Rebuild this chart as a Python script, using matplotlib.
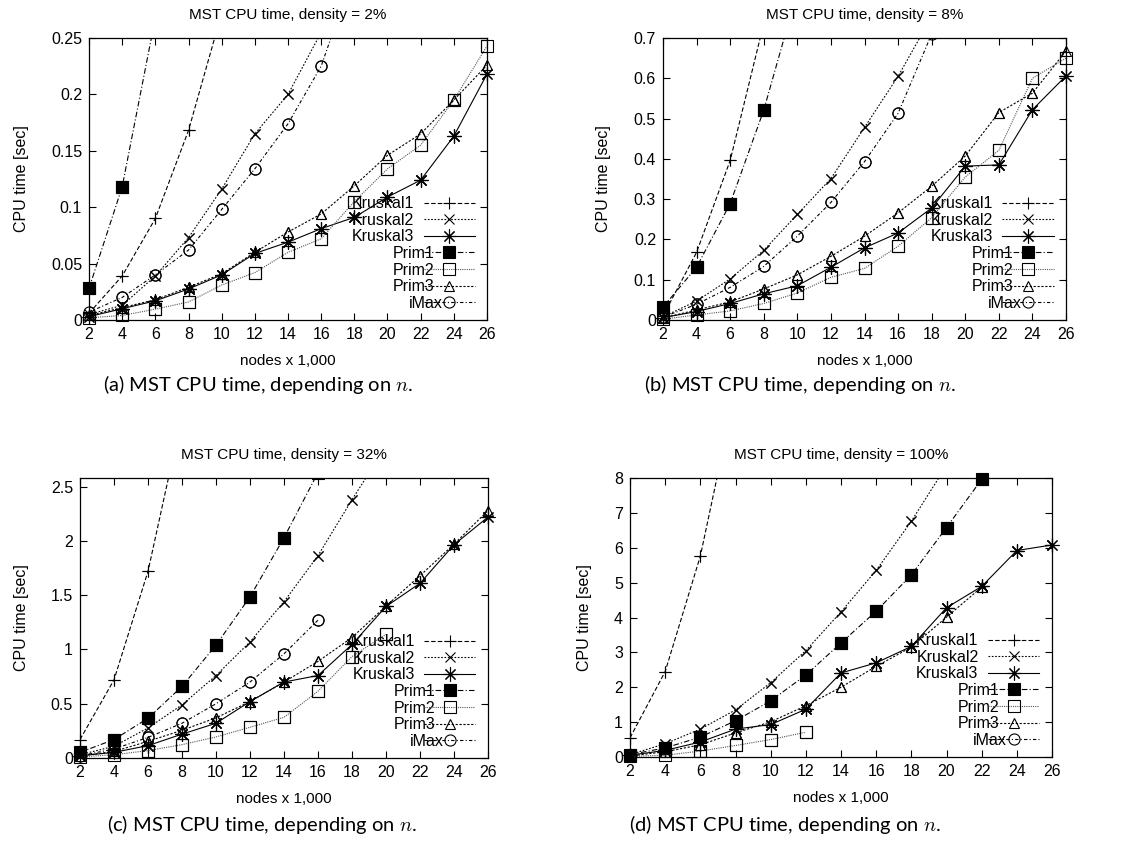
import numpy as np
import matplotlib
matplotlib.use("Agg")
import matplotlib.pyplot as plt
from matplotlib.ticker import FuncFormatter

plt.rcParams['font.family'] = ['Liberation Sans', 'DejaVu Sans']
plt.rcParams['mathtext.fontset'] = 'cm'

# nodes x 1,000
NODES = [2, 4, 6, 8, 10, 12, 14, 16, 18, 20, 22, 24, 26]
LABELS = ['Kruskal1', 'Kruskal2', 'Kruskal3', 'Prim1', 'Prim2', 'Prim3', 'iMax']
DENSITIES = ['2%', '8%', '32%', '100%']
CAPTIONS = ['(a)', '(b)', '(c)', '(d)']
YMAX = [0.25, 0.7, 2.58, 8]
YSTEP = [0.05, 0.1, 0.5, 1]

# density = 2%
A_KRUSKAL1 = [0.006, 0.039, 0.090, 0.168, 0.272]
A_KRUSKAL2 = [0.005, 0.013, 0.039, 0.073, 0.116, 0.165, 0.200, 0.255]
A_KRUSKAL3 = [0.003, 0.010, 0.017, 0.0275, 0.040, 0.059, 0.069, 0.081, 0.091, 0.109, 0.124, 0.163, 0.218]
A_PRIM1 = [0.028, 0.118, 0.268]
A_PRIM2 = [0.002, 0.004, 0.0096, 0.016, 0.031, 0.042, 0.060, 0.072, 0.105, 0.134, 0.155, 0.195, 0.243]
A_PRIM3 = [0.004, 0.011, 0.018, 0.029, 0.041, 0.060, 0.078, 0.094, 0.119, 0.146, 0.165, 0.195, 0.226]
A_IMAX = [0.007, 0.020, 0.040, 0.062, 0.098, 0.134, 0.174, 0.225, 0.31]

# density = 8%
B_KRUSKAL1 = [0.010, 0.168, 0.396, 0.736]
B_KRUSKAL2 = [0.008, 0.047, 0.102, 0.173, 0.262, 0.351, 0.478, 0.605, 0.753]
B_KRUSKAL3 = [0.006, 0.021, 0.041, 0.065, 0.085, 0.131, 0.179, 0.216, 0.278, 0.382, 0.385, 0.522, 0.606]
B_PRIM1 = [0.032, 0.131, 0.289, 0.521, 0.815]
B_PRIM2 = [0.002, 0.0125, 0.0225, 0.041, 0.067, 0.106, 0.128, 0.183, 0.254, 0.355, 0.421, 0.600, 0.650]
B_PRIM3 = [0.005, 0.025, 0.045, 0.077, 0.112, 0.158, 0.208, 0.266, 0.332, 0.407, 0.515, 0.563, 0.668]
B_IMAX = [0.007, 0.039, 0.081, 0.133, 0.208, 0.292, 0.393, 0.513, 0.71]

# density = 32%
C_KRUSKAL1 = [0.17, 0.72, 1.72, 3.15]
C_KRUSKAL2 = [0.03, 0.108, 0.277, 0.49, 0.76, 1.07, 1.44, 1.865, 2.38, 2.87]
C_KRUSKAL3 = [0.02, 0.052, 0.114, 0.22, 0.32, 0.52, 0.70, 0.76, 1.046, 1.396, 1.61, 1.965, 2.22]
C_PRIM1 = [0.052, 0.17, 0.366, 0.66, 1.04, 1.485, 2.03, 2.63]
C_PRIM2 = [0.01, 0.03, 0.068, 0.123, 0.194, 0.283, 0.375, 0.615, 0.935, 1.14]
C_PRIM3 = [0.02, 0.06, 0.154, 0.255, 0.37, 0.52, 0.70, 0.89, 1.11, 1.40, 1.68, 1.97, 2.28]
C_IMAX = [0.02, 0.083, 0.19, 0.32, 0.50, 0.70, 0.96, 1.27]

# density = 100%
D_KRUSKAL1 = [0.55, 2.45, 5.76, 10.5]
D_KRUSKAL2 = [0.07, 0.38, 0.80, 1.35, 2.13, 3.05, 4.16, 5.35, 6.76, 8.35]
D_KRUSKAL3 = [0.05, 0.19, 0.43, 0.80, 0.93, 1.37, 2.41, 2.70, 3.17, 4.28, 4.89, 5.92, 6.08]
D_PRIM1 = [0.07, 0.26, 0.57, 1.04, 1.61, 2.35, 3.27, 4.18, 5.22, 6.58, 7.96]
D_PRIM2 = [0.02, 0.05, 0.17, 0.33, 0.50, 0.71]
D_PRIM3 = [0.03, 0.15, 0.35, 0.69, 1.01, 1.47, 2.0, 2.60, 3.15, 4.01, 4.87]
D_IMAX = []

PANELS = [
    [A_KRUSKAL1, A_KRUSKAL2, A_KRUSKAL3, A_PRIM1, A_PRIM2, A_PRIM3, A_IMAX],
    [B_KRUSKAL1, B_KRUSKAL2, B_KRUSKAL3, B_PRIM1, B_PRIM2, B_PRIM3, B_IMAX],
    [C_KRUSKAL1, C_KRUSKAL2, C_KRUSKAL3, C_PRIM1, C_PRIM2, C_PRIM3, C_IMAX],
    [D_KRUSKAL1, D_KRUSKAL2, D_KRUSKAL3, D_PRIM1, D_PRIM2, D_PRIM3, D_IMAX],
]

# gnuplot-like monochrome styles
STYLES = [
    dict(ls=(0, (4, 2)), marker='+', mfc='none', ms=9),
    dict(ls=(0, (1.5, 1.5)), marker='x', mfc='none', ms=7.5),
    dict(ls='-', marker=(8, 2, 0), mfc='none', ms=10),
    dict(ls=(0, (5, 2, 1, 2)), marker='s', mfc='black', ms=8),
    dict(ls=(0, (1, 1)), marker='s', mfc='none', ms=8),
    dict(ls=(0, (2, 1.5)), marker='^', mfc='none', ms=7.5),
    dict(ls=(0, (3, 2, 1, 2)), marker='o', mfc='none', ms=8),
]

W, H = 1127, 852
# axes boxes in pixels: left, right, top, bottom
BOXES = [(89, 487, 38, 320), (663, 1066, 38, 320), (80, 488, 478, 758), (630, 1052, 478, 757)]
CAP_X = [258, 800, 262, 785]
CAP_Y = [385, 385, 825, 825]

fig = plt.figure(figsize=(W / 100, H / 100), dpi=100)

for i, series in enumerate(PANELS):
    l, r, t, b = BOXES[i]
    ax = fig.add_axes([l / W, 1 - b / H, (r - l) / W, (b - t) / H])
    handles = []
    for lab, ys, st in zip(LABELS, series, STYLES):
        xs = NODES[:len(ys)]
        col = '#555555' if lab == 'Prim2' else 'black'
        h, = ax.plot(xs, ys, color=col, lw=0.8, ls=st['ls'], marker=st['marker'],
                     ms=st['ms'], mfc=st['mfc'], mec='black', mew=0.8, label=lab)
        # points on the border are not clipped in gnuplot
        inside = [(x, y) for x, y in zip(xs, ys) if y <= YMAX[i]]
        if inside:
            px, py = zip(*inside)
            ax.plot(px, py, ls='none', marker=st['marker'], ms=st['ms'], mfc=st['mfc'],
                    mec='black', mew=0.8, clip_on=False)
        handles.append(h)
    ax.set_xlim(2, 26)
    ax.set_ylim(0, YMAX[i])
    ax.set_xticks(NODES)
    ax.set_yticks(np.arange(0, YMAX[i] + 1e-9, YSTEP[i]))
    ax.yaxis.set_major_formatter(FuncFormatter(lambda v, p: '%g' % round(v, 4)))
    ax.tick_params(direction='in', top=True, right=True, length=5, width=0.8, labelsize=11.5, pad=5)
    for s in ax.spines.values():
        s.set_linewidth(0.9)
    ax.set_title('MST CPU time, density = ' + DENSITIES[i], fontsize=11, pad=14)
    ax.set_xlabel('nodes x 1,000', fontsize=11, labelpad=9)
    ax.set_ylabel('CPU time [sec]', fontsize=11.5, labelpad=16)
    leg = ax.legend(handles=handles, loc='lower right', frameon=False, markerfirst=False,
                    fontsize=11.5, handlelength=3.2, handletextpad=0.6, labelspacing=0.1,
                    borderaxespad=0.0, bbox_to_anchor=(0.985, 0.01))
    fig.canvas.draw()
    texts = leg.get_texts()
    widths = [tx.get_window_extent().width for tx in texts]
    for tx, wd in zip(texts, widths):
        tx.set_ha('right')
        tx.set_position((max(widths) - wd, 0))
    fig.text(CAP_X[i] / W, 1 - CAP_Y[i] / H,
             CAPTIONS[i] + ' MST CPU time, depending on $n$.',
             ha='center', va='center', fontsize=14.5, family=['Lato', 'DejaVu Sans'])

fig.savefig('out.png', dpi=100)
